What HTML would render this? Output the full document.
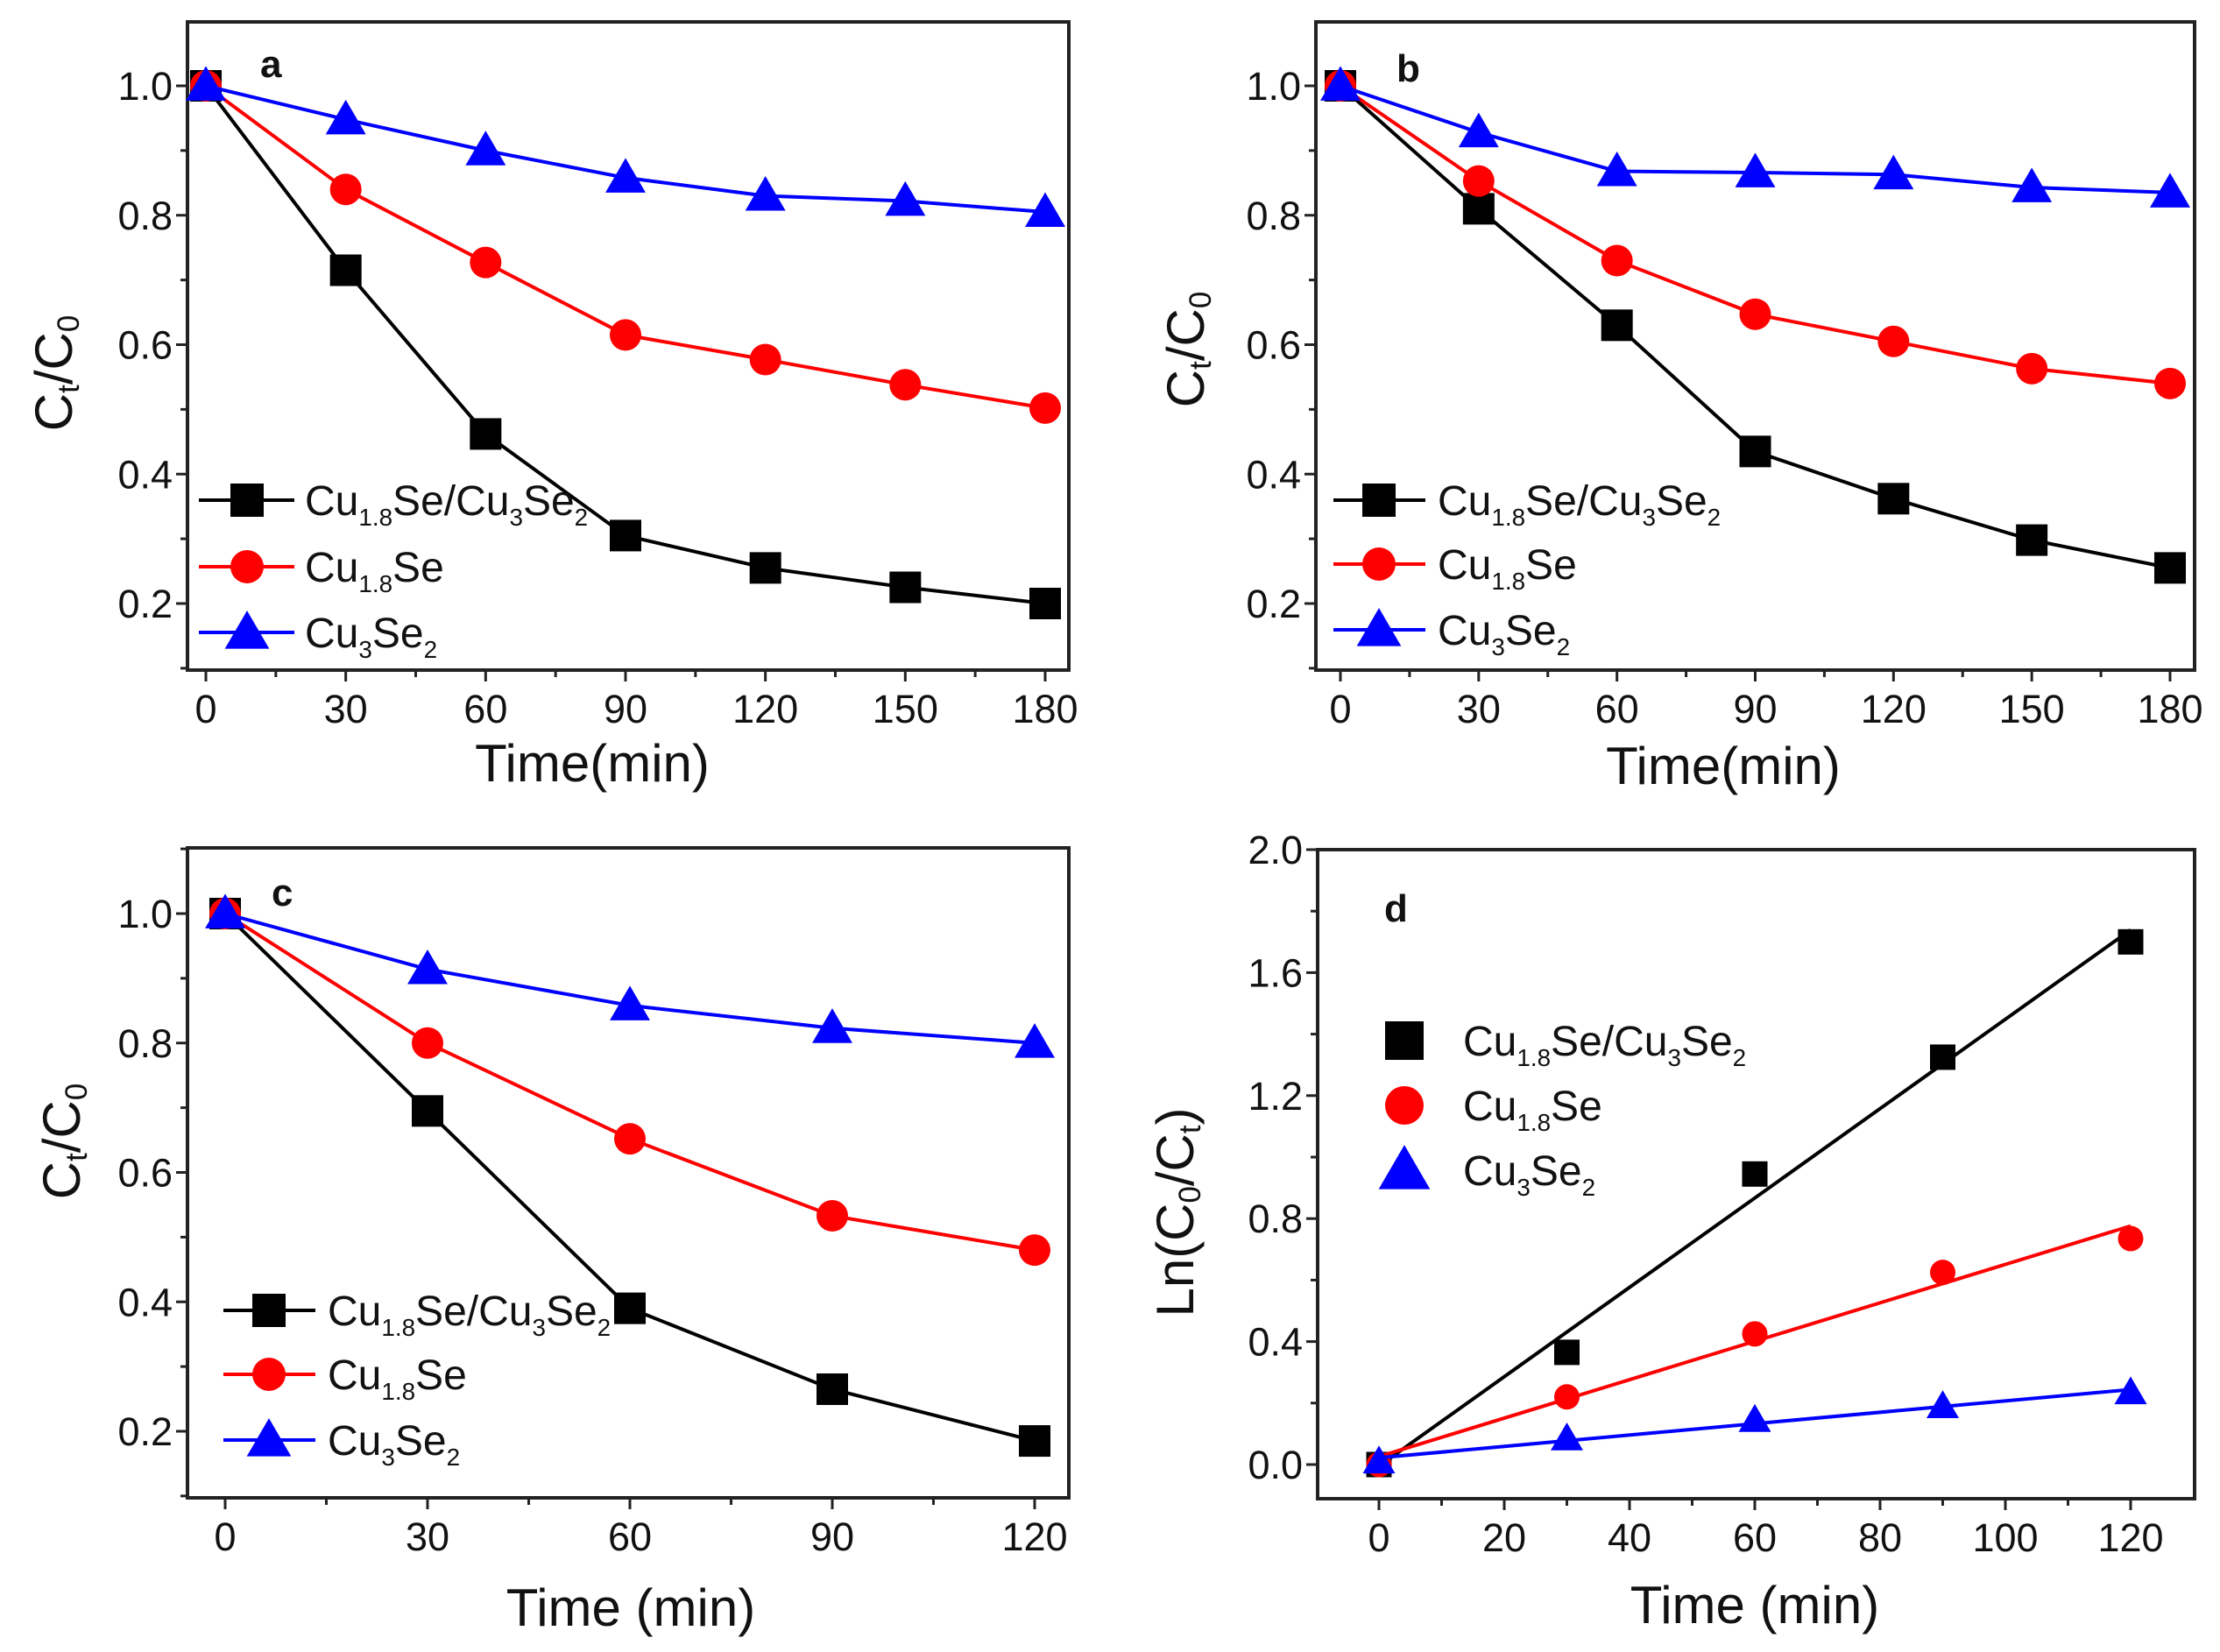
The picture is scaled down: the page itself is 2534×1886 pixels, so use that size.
<!DOCTYPE html>
<html><head><meta charset="utf-8"><style>
html,body{margin:0;padding:0;background:#fff}
svg{display:block;font-family:"Liberation Sans",Arial,sans-serif}
</style></head><body>
<svg id="fig" width="2534" height="1886" viewBox="0 0 2534 1886" xmlns="http://www.w3.org/2000/svg"></svg>
<script>
// ---- data ----
const timeAB = [0,30,60,90,120,150,180];
const timeCD = [0,30,60,90,120];
const aComposite = [1.0,0.715,0.462,0.305,0.255,0.225,0.2];
const aCu18Se = [1.0,0.84,0.727,0.615,0.577,0.538,0.502];
const aCu3Se2 = [1.0,0.948,0.9,0.858,0.83,0.822,0.805];
const bComposite = [1.0,0.81,0.63,0.435,0.362,0.298,0.255];
const bCu18Se = [1.0,0.853,0.73,0.647,0.605,0.563,0.54];
const bCu3Se2 = [1.0,0.928,0.868,0.866,0.863,0.843,0.835];
const cComposite = [1.0,0.695,0.39,0.265,0.185];
const cCu18Se = [1.0,0.80,0.652,0.533,0.48];
const cCu3Se2 = [1.0,0.914,0.858,0.823,0.80];
const dComposite = [0,0.365,0.945,1.325,1.70];
const dCu18Se = [0,0.22,0.425,0.625,0.735];
const dCu3Se2 = [0.01,0.085,0.145,0.19,0.235];
const ticksX180 = [0,30,60,90,120,150,180];
const ticksX120 = [0,30,60,90,120];
const ticksX120d = [0,20,40,60,80,100,120];
const ticksYc = [0.2,0.4,0.6,0.8,1.0];
const ticksYd = [0.0,0.4,0.8,1.2,1.6,2.0];

const NS="http://www.w3.org/2000/svg";
const svg=document.getElementById('fig');
function mk(tag,attrs,parent){const e=document.createElementNS(NS,tag);for(const k in attrs)e.setAttribute(k,attrs[k]);(parent||svg).appendChild(e);return e;}

function marker(g,shape,cx,cy,color,s){
  let e;
  if(shape==='square') e=mk('rect',{x:cx-s/2,y:cy-s/2,width:s,height:s,fill:color},g);
  else if(shape==='circle') e=mk('circle',{cx:cx,cy:cy,r:s/2,fill:color},g);
  else { const h=s*0.95; e=mk('polygon',{points:`${cx},${cy-h*0.6} ${cx-s*0.58},${cy+h*0.45} ${cx+s*0.58},${cy+h*0.45}`,fill:color},g); }
  return e;
}
function chemLabel(g,x,y,parts,fs){
  const t=mk('text',{x:x,y:y,'font-size':fs,fill:'#111'},g);
  parts.forEach(p=>{
    const s=mk('tspan',{},t);
    if(p[1]){s.setAttribute('font-size',fs*0.58);s.setAttribute('dy',fs*0.25);}
    else if(p[2]){s.setAttribute('dy',-fs*0.25);}
    s.textContent=p[0];
  });
  return t;
}
const compParts=[['Cu'],['1.8',1],['Se/Cu',0,1],['3',1],['Se',0,1],['2',1]];
const cu18Parts=[['Cu'],['1.8',1],['Se',0,1]];
const cu3Parts=[['Cu'],['3',1],['Se',0,1],['2',1]];

function panel(cfg){
  const g=mk('g',{});
  
  
  const X=v=>cfg.px0+(v-cfg.xv0)*(cfg.px1-cfg.px0)/(cfg.xv1-cfg.xv0);
  const Y=v=>cfg.py0+(v-cfg.yv0)*(cfg.py1-cfg.py0)/(cfg.yv1-cfg.yv0);
  const f=cfg.frame;
  const fr=mk('rect',{x:f[0],y:f[1],width:f[2]-f[0],height:f[3]-f[1],fill:'none',stroke:'#222','stroke-width':4},g);
  
  
  cfg.xt.forEach((v,i)=>{
    const x=X(v);
    mk('line',{x1:x,y1:f[3],x2:x,y2:f[3]+13,stroke:'#222','stroke-width':3},g);
    const t=mk('text',{x:x,y:f[3]+60,'font-size':45,'text-anchor':'middle',fill:'#111'},g);
    
    
    t.textContent=v;
    if(i<cfg.xt.length-1){const xm=X((v+cfg.xt[i+1])/2);mk('line',{x1:xm,y1:f[3],x2:xm,y2:f[3]+8,stroke:'#222','stroke-width':3},g);}
  });
  const step=cfg.yt[1]-cfg.yt[0];
  cfg.yt.forEach((v,i)=>{
    const y=Y(v);
    mk('line',{x1:f[0],y1:y,x2:f[0]-13,y2:y,stroke:'#222','stroke-width':3},g);
    const t=mk('text',{x:f[0]-17,y:y+16,'font-size':45,'text-anchor':'end',fill:'#111'},g);
    
    
    t.textContent=v.toFixed(1);
    const mins=[v+step/2]; if(i===0) mins.push(v-step/2);
    mins.forEach(m=>{const ym=Y(m); if(ym>f[1]&&ym<f[3]) mk('line',{x1:f[0],y1:ym,x2:f[0]-8,y2:ym,stroke:'#222','stroke-width':3},g);});
  });
  const xt=mk('text',{x:cfg.xtitle[0],y:cfg.xtitle[1],'font-size':60,'text-anchor':'middle',fill:'#111'},g);
  
  
  xt.textContent=cfg.xtitleText;
  const yg=mk('g',{transform:`translate(${cfg.ytitle[0]},${cfg.ytitle[1]}) rotate(-90)`},g);
  const yt=chemLabel(yg,0,0,cfg.ytitleParts,60);
  yt.setAttribute('text-anchor','middle');
  yt.setAttribute('dominant-baseline','middle');
  
  
  const pl=mk('text',{x:cfg.letter[0],y:cfg.letter[1],'font-size':44,'font-weight':'bold',fill:'#111'},g);
  
  
  pl.textContent=cfg.id;
  cfg.series.forEach(s=>{
    const sg=mk('g',{},g);
    
    
    if(cfg.fit){
      const n=cfg.x.length; const mx=cfg.x.reduce((a,b)=>a+b)/n; const my=s.y.reduce((a,b)=>a+b)/n;
      let sxy=0,sxx=0; cfg.x.forEach((xv,i)=>{sxy+=(xv-mx)*(s.y[i]-my);sxx+=(xv-mx)**2;});
      const k=sxy/sxx, b=my-k*mx; const x0=cfg.x[0], x1=cfg.x[n-1];
      const fl=mk('line',{x1:X(x0),y1:Y(b+k*x0),x2:X(x1),y2:Y(b+k*x1),stroke:s.color,'stroke-width':4},sg);
      
      
    } else {
      const pl2=mk('polyline',{points:cfg.x.map((xv,i)=>X(xv)+','+Y(s.y[i])).join(' '),fill:'none',stroke:s.color,'stroke-width':4},sg);
      
      
    }
    cfg.x.forEach((xv,i)=>{
      const m=marker(sg,s.shape,X(xv),Y(s.y[i]),s.color,cfg.ms*(s.shape==='triangle'?1.1:1));
      
      
    });
  });
  const lg=mk('g',{},g);
  
  
  const L=cfg.legend;
  cfg.series.forEach((s,i)=>{
    const eg=mk('g',{},lg);
    
    
    const y=L.ys[i];
    if(L.line) mk('line',{x1:L.x1,y1:y,x2:L.x2,y2:y,stroke:s.color,'stroke-width':4},eg);
    marker(eg,s.shape,L.mx,y,s.color,L.ms*(s.shape==='triangle'?1.15:1));
    chemLabel(eg,L.tx,y+17,s.parts,L.fs);
  });
}

const mkSeries=(a,b,c)=>[
  {name:'cu18se-cu3se2',y:a,color:'#000',shape:'square',parts:compParts},
  {name:'cu18se',y:b,color:'#f00',shape:'circle',parts:cu18Parts},
  {name:'cu3se2',y:c,color:'#00f',shape:'triangle',parts:cu3Parts}];
const ctParts=[['C'],['t',1],['/C',0,1],['0',1]];
const lnParts=[['Ln(C'],['0',1],['/C',0,1],['t',1],[')',0,1]];

panel({id:'a',frame:[214,25,1220,765],px0:235,px1:1193,xv0:0,xv1:180,py0:98,py1:689,yv0:1.0,yv1:0.2,
  xt:ticksX180,yt:ticksYc,x:timeAB,series:mkSeries(aComposite,aCu18Se,aCu3Se2),ms:36,
  xtitle:[676,892],xtitleText:'Time(min)',ytitle:[66,426],ytitleParts:ctParts,letter:[297,88],
  legend:{line:true,x1:227,x2:336,mx:282,ys:[571,647,722],tx:348,ms:38,fs:48}});
panel({id:'b',frame:[1502,25,2505,765],px0:1530,px1:2477,xv0:0,xv1:180,py0:98,py1:689,yv0:1.0,yv1:0.2,
  xt:ticksX180,yt:ticksYc,x:timeAB,series:mkSeries(bComposite,bCu18Se,bCu3Se2),ms:36,
  xtitle:[1967,895],xtitleText:'Time(min)',ytitle:[1358,399],ytitleParts:ctParts,letter:[1594,93],
  legend:{line:true,x1:1522,x2:1627,mx:1574,ys:[571,644,719],tx:1641,ms:38,fs:48}});
panel({id:'c',frame:[214,968,1220,1710],px0:257,px1:1181,xv0:0,xv1:120,py0:1043,py1:1634,yv0:1.0,yv1:0.2,
  xt:ticksX120,yt:ticksYc,x:timeCD,series:mkSeries(cComposite,cCu18Se,cCu3Se2),ms:36,
  xtitle:[720,1856],xtitleText:'Time (min)',ytitle:[75,1303],ytitleParts:ctParts,letter:[310,1034],
  legend:{line:true,x1:255,x2:360,mx:307,ys:[1496,1569,1644],tx:374,ms:38,fs:48}});
panel({id:'d',frame:[1504,970,2505,1711],px0:1574,px1:2432,xv0:0,xv1:120,py0:970,py1:1672,yv0:2.0,yv1:0.0,
  xt:ticksX120d,yt:ticksYd,x:timeCD,series:mkSeries(dComposite,dCu18Se,dCu3Se2),ms:29,fit:true,
  xtitle:[2003,1853],xtitleText:'Time (min)',ytitle:[1346,1384],ytitleParts:lnParts,letter:[1580,1052],
  legend:{line:false,mx:1603,ys:[1188,1262,1336],tx:1670,ms:44,fs:48}});
</script>
</body></html>
